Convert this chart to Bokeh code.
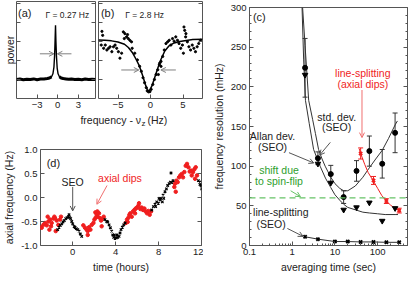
from bokeh.plotting import figure
from bokeh.layouts import row, column
from bokeh.models import (Range1d, FixedTicker, SingleIntervalTicker, LinearAxis, LogTicker,
                          Label, Arrow, OpenHead, Whisker, TeeHead, ColumnDataSource, Span,
                          CustomJSTickFormatter, PrintfTickFormatter)
from bokeh.embed import file_html
from bokeh.resources import INLINE

FONT = "Liberation Sans"
AX = "#555555"
TXT = "#222222"
RED = "#f01e1e"
GREEN_LINE = "#66c266"
GREEN_TXT = "#2e9e2e"
GRAY = "#808080"
TICK_FS = "9.5px"
LAB_FS = "10.5px"

# ---------------- data ----------------
# (a) narrow resonance
a_freq = [-6.0, -5.5, -5.0, -4.5, -4.0, -3.5, -3.0, -2.5, -2.0, -1.5, -1.2, -0.9, -0.7, -0.55, -0.45,
          -0.38, -0.32, -0.26, -0.18, -0.08, 0.05, 0.25, 0.5, 0.8, 1.2, 1.6, 2.0, 2.5, 3.0, 3.5, 4.0,
          4.5, 5.0, 5.5]
a_power = [1.0, 1.02, 0.99, 1.01, 1.0, 1.03, 0.99, 1.02, 1.03, 1.05, 1.08, 1.14, 1.3, 1.65, 2.3,
           3.1, 3.85, 3.0, 2.2, 1.6, 1.3, 1.14, 1.08, 1.05, 1.03, 1.01, 1.02, 1.0, 1.01, 0.99, 1.02,
           1.0, 1.01, 1.0]
a_ticks_x = [-3, 0, 3]

# (b) broad dip
b_fit_freq = [-8.0, -7.0, -6.0, -5.0, -4.0, -3.4, -2.8, -2.2, -1.7, -1.2, -0.8, -0.5, -0.3, -0.1,
              0.2, 0.6, 1.1, 1.6, 2.2, 2.8, 3.5, 4.5, 5.5, 6.5, 8.0]
b_fit_power = [3.08, 3.06, 3.03, 2.97, 2.85, 2.68, 2.42, 2.05, 1.70, 1.20, 0.75, 0.48, 0.40, 0.45,
               0.65, 1.05, 1.58, 2.05, 2.50, 2.75, 2.90, 3.00, 3.05, 3.10, 3.12]
b_dot_freq = [-7.47, -7.36, -7.58, -7.21, -6.96, -6.71, -6.45, -6.21, -5.95, -5.70, -5.45, -5.20,
              -4.94, -4.70, -4.44, -4.18, -3.94, -3.68, -3.42, -3.18, -2.92, -4.03, -3.53, -2.82,
              -2.42, -2.02, -1.67, -1.41, -1.15, -0.91, -0.65, -0.50, -0.30, -0.09, 0.11, 0.36,
              0.61, 0.86, 1.12, 1.36, 1.62, 1.88, 2.12, 2.38, 2.64, 2.88, 3.14, 3.39, 3.64, 3.89,
              4.15, 4.39, 4.65, 4.91, 5.15, 5.26, 5.45, 5.67, 5.91, 6.17, 6.42, 6.67, 6.92, 7.18,
              7.42, 5.06, 5.41, 1.62, 1.21, 1.42, 7.68]
b_dot_power = [3.53, 3.32, 2.81, 2.64, 2.81, 2.55, 2.64, 2.72, 2.46, 2.72, 2.81, 2.64,
               2.46, 2.12, 2.38, 3.50, 3.41, 3.24, 3.15, 3.06, 2.98, 3.15, 3.36, 2.64,
               2.38, 2.03, 1.69, 1.43, 1.09, 0.83, 0.57, 0.40, 0.35, 0.36, 0.48, 0.74,
               1.00, 1.26, 1.51, 1.77, 1.95, 2.21, 2.55, 2.89, 2.98, 3.06, 2.81, 3.15, 3.01, 3.24,
               3.06, 2.89, 2.64, 2.81, 3.76, 3.58, 3.41, 2.98, 2.72, 2.55, 2.81, 2.64, 2.46, 2.72,
               2.89, 2.38, 3.24, 1.69, 1.26, 1.86, 3.06]
b_ticks_x = [-5, 0, 5]
power_ticks = [1, 2, 3, 4, 5]

# (c) frequency resolution vs averaging time
c_tau = [2, 4, 8, 16, 32, 64, 128, 256]
c_std = [224, 110, 90, 61, 94, 119, 103, 142]
c_std_err = [37, 8, 11, 8, 13, 19, 18, 25]
c_allan = [215, 103, 79, 45, 48, 54, 31, 47]
c_std_curve_tau = [1.75, 2.0, 2.43, 3.0, 3.5, 4.14, 5, 5.9, 8, 10, 13, 16, 20, 30, 45, 64, 90,
                   128, 180, 256, 290]
c_std_curve = [300, 252, 183, 159, 141, 121, 109, 100, 86, 78, 72, 69, 69, 75, 86, 98, 109,
               120, 135, 152, 157]
c_allan_curve_tau = [1.70, 1.85, 2.04, 2.5, 3.17, 4.5, 6, 8, 10, 13, 16, 20, 30, 45, 64, 100,
                     150, 256, 300]
c_allan_curve = [300, 235, 183, 154, 121, 100, 85, 73, 64, 57, 52, 48, 45, 42, 41, 40, 39, 39, 39]
c_ls_tau = [2, 4, 10, 20, 40, 80, 160, 320]
c_ls = [11, 8, 5, 5, 4.5, 4.5, 4, 4]
c_dip_tau = [40, 80, 160, 320]
c_dip = [116, 82, 56, 44]
c_dip_err = [7, 5, 3, 3]
c_dip_curve_tau = [37, 40, 50, 60, 80, 100, 125, 160, 200, 250, 320, 350]
c_dip_curve = [122, 116, 102, 92, 81, 72, 63, 56, 51, 47, 44, 43]
spin_flip_shift = 60

# (d) axial frequency vs time
d_seo_t = [-1.40, -1.27, -1.15, -1.02, -0.90, -0.78, -0.65, -0.53, -0.40, -0.34, -0.28, -0.19,
           -0.09, 0.00, 0.12, 0.22, 0.34, 0.47, 0.59, 0.71, 0.84,
           3.01, 3.17, 3.26, 3.39, 3.51, 3.63, 3.73, 3.82, 3.88, 3.94, 4.07, 4.13, 4.19, 4.32,
           4.41, 4.50, 4.63, 4.75, 4.88,
           7.36, 7.52, 7.67, 7.73, 7.83, 7.98, 8.04, 8.14, 8.23, 8.35, 8.42, 8.48, 8.60, 8.73,
           8.85, 8.98, 9.10, 9.16, 9.22, 9.35,
           11.71, 11.83, 11.86, 11.96, 12.02]
d_seo_v = [-0.67, -0.62, -0.58, -0.55, -0.51, -0.48, -0.44, -0.42, -0.40, -0.36, -0.42, -0.44,
           -0.50, -0.55, -0.60, -0.62, -0.65, -0.67, -0.70, -0.76, -0.81,
           -0.46, -0.50, -0.51, -0.57, -0.63, -0.70, -0.78, -0.83, -0.78, -0.85, -0.84, -0.78,
           -0.83, -0.81, -0.74, -0.67, -0.62, -0.57, -0.53,
           -0.26, -0.19, -0.14, -0.19, -0.09, -0.12, -0.02, -0.05, -0.02, -0.09, 0.05, -0.02,
           0.12, 0.18, 0.25, 0.29, 0.32, 0.51, 0.31, 0.35,
           0.35, 0.32, 0.27, 0.25, 0.18]
d_dip_t = [-2.95, -2.89, -2.73, -2.58, -2.42, -2.33, -2.27, -2.17, -2.11, -2.02, -1.96, -1.80,
           -1.71, -1.65, -1.58, -1.49, -1.34, -1.18, -1.09,
           0.99, 1.15, 1.30, 1.40, 1.40, 1.52, 1.65, 1.77, 1.93, 2.02, 2.11, 2.14, 2.24, 2.30,
           2.33, 2.45, 2.55, 2.64, 2.70, 2.80, 2.89,
           4.94, 5.06, 5.12, 5.19, 5.28, 5.37, 5.50, 5.62, 5.75, 5.81, 5.87, 5.99, 6.12, 6.18,
           6.30, 6.43, 6.55, 6.68, 6.80, 6.93, 7.05, 7.17, 7.30,
           9.47, 9.53, 9.60, 9.66, 9.78, 9.91, 10.03, 10.16, 10.28, 10.40, 10.53, 10.65, 10.78,
           10.90, 11.02, 11.09, 11.21, 11.34, 11.40, 11.46, 11.58]
d_dip_v = [-0.62, -0.63, -0.57, -0.53, -0.58, -0.40, -0.50, -0.67, -0.46, -0.60, -0.53, -0.44,
           -0.40, -0.43, -0.70, -0.48, -0.57, -0.46, -0.40,
           -0.58, -0.63, -0.67, -0.70, -0.78, -0.62, -0.67, -0.57, -0.53, -0.46, -0.31, -0.42,
           -0.36, -0.29, -0.40, -0.33, -0.43, -0.48, -0.60, -0.44, -0.40,
           -0.53, -0.46, -0.51, -0.42, -0.36, -0.33, -0.40, -0.29, -0.26, -0.33, -0.23, -0.21,
           -0.17, -0.12, -0.24, -0.21, -0.26, -0.23, -0.29, -0.33, -0.28, -0.36, -0.29,
           0.22, 0.29, 0.12, 0.35, 0.32, 0.42, 0.46, 0.49, 0.42, 0.53, 0.66, 0.70, 0.63,
           0.54, 0.56, 0.46, 0.53, 0.59, 0.39, 0.63, 0.46]
d_ticks_x = [0, 4, 8, 12]
d_ticks_y = [-1.0, -0.5, 0.0, 0.5, 1.0]


# ---------------- helpers ----------------
def style_axis(ax):
    ax.axis_line_color = None
    ax.major_tick_in = 4
    ax.major_tick_out = 0
    ax.minor_tick_in = 2
    ax.minor_tick_out = 0
    ax.major_tick_line_color = AX
    ax.minor_tick_line_color = AX
    ax.major_label_text_font = FONT
    ax.major_label_text_font_size = TICK_FS
    ax.major_label_text_color = TXT
    ax.major_label_standoff = 3
    ax.axis_label_text_font = FONT
    ax.axis_label_text_font_size = LAB_FS
    ax.axis_label_text_font_style = "normal"
    ax.axis_label_text_color = TXT
    ax.axis_label_standoff = 3


def hide_labels(ax):
    ax.formatter = CustomJSTickFormatter(code="return ''")
    ax.major_label_text_font_size = "0px"
    ax.major_label_standoff = 0


def base_fig(**kw):
    p = figure(output_backend="svg", toolbar_location=None, **kw)
    p.grid.visible = False
    p.outline_line_color = AX
    p.outline_line_width = 1
    p.background_fill_color = "white"
    p.border_fill_color = "white"
    for ax in p.axis:
        style_axis(ax)
    return p


def mirror_right(p, ticker):
    ax = LinearAxis(ticker=ticker)
    style_axis(ax)
    hide_labels(ax)
    p.add_layout(ax, "right")


def lab(p, x, y, text, size=LAB_FS, color=TXT, align="center"):
    p.add_layout(Label(x=x, y=y, text=text, text_font=FONT, text_font_size=size,
                       text_color=color, text_align=align, text_baseline="middle"))


def arrow(p, x0, y0, x1, y1, color=GRAY):
    p.add_layout(Arrow(end=OpenHead(size=5, line_color=color, line_width=1),
                       x_start=x0, y_start=y0, x_end=x1, y_end=y1,
                       line_color=color, line_width=1))


# ---------------- panel (a) ----------------
pa = base_fig(frame_width=79, frame_height=97, x_range=Range1d(-6, 5.5), y_range=Range1d(0, 5.1),
              min_border_left=14, min_border_right=1, min_border_top=1, min_border_bottom=15)
pa.xaxis.ticker = FixedTicker(ticks=a_ticks_x)
pa.yaxis.ticker = FixedTicker(ticks=power_ticks)
hide_labels(pa.yaxis[0])
pa.yaxis.axis_label = "power"
pa.yaxis.axis_label_standoff = 1
mirror_right(pa, FixedTicker(ticks=power_ticks))
left = [(f, w) for f, w in zip(a_freq, a_power) if f < -0.8]
right_ = [(f, w) for f, w in zip(a_freq, a_power) if f > 0.2]
pa.line([f for f, _ in left], [w for _, w in left], line_color="black", line_width=3)
pa.line([f for f, _ in right_], [w for _, w in right_], line_color="black", line_width=3)
pa.line(a_freq, a_power, line_color="black", line_width=1.4)
arrow(pa, -2.6, 2.35, -0.55, 2.35)
arrow(pa, 2.0, 2.35, -0.05, 2.35)
lab(pa, -4.8, 4.5, "(a)", size="11px")
lab(pa, 1.4, 4.4, "Γ = 0.27 Hz", size="8.5px")

# ---------------- panel (b) ----------------
pb = base_fig(frame_width=104, frame_height=97, x_range=Range1d(-8, 8), y_range=Range1d(0, 5.1),
              min_border_left=2, min_border_right=2, min_border_top=1, min_border_bottom=15)
pb.xaxis.ticker = FixedTicker(ticks=b_ticks_x)
pb.yaxis.ticker = FixedTicker(ticks=power_ticks)
hide_labels(pb.yaxis[0])
mirror_right(pb, FixedTicker(ticks=power_ticks))
pb.scatter(b_dot_freq, b_dot_power, marker="circle", size=2.2, color="black")
pb.line(b_fit_freq, b_fit_power, line_color="black", line_width=1.5)
arrow(pb, -4.5, 1.5, -1.8, 1.5)
arrow(pb, 3.9, 1.5, 1.6, 1.5)
lab(pb, -6.6, 4.5, "(b)", size="11px")
lab(pb, -0.9, 4.4, "Γ = 2.8 Hz", size="8.5px")

# ---------------- shared x label for (a)/(b) ----------------
ps = figure(width=202, height=14, x_range=Range1d(0, 202), y_range=Range1d(0, 14),
            output_backend="svg", toolbar_location=None, min_border=0)
ps.axis.visible = False
ps.grid.visible = False
ps.outline_line_color = None
lab(ps, 127, 8, "frequency - ν", align="right")
lab(ps, 127.5, 4.5, "z", size="8px", align="left")
lab(ps, 135, 8, "(Hz)", align="left")

# ---------------- panel (d) ----------------
pd = base_fig(frame_width=161, frame_height=96, x_range=Range1d(-3, 12), y_range=Range1d(-1, 1),
              min_border_left=36, min_border_right=2, min_border_top=22, min_border_bottom=30)
pd.xaxis.ticker = FixedTicker(ticks=d_ticks_x)
pd.yaxis.ticker = FixedTicker(ticks=d_ticks_y)
pd.yaxis.formatter = PrintfTickFormatter(format="%.1f")
pd.xaxis.axis_label = "time (hours)"
pd.yaxis.axis_label = "axial frequency (Hz)"
mirror_right(pd, FixedTicker(ticks=d_ticks_y))
pd.scatter(d_dip_t, d_dip_v, marker="circle", size=3.5, color=RED)
pd.scatter(d_seo_t, d_seo_v, marker="x", size=3.5, line_color="black", line_width=1.2)
lab(pd, -1.8, 0.72, "(d)", size="11px")
lab(pd, 0.0, 0.33, "SEO")
arrow(pd, 0.0, 0.22, 0.0, -0.28, color="#555555")
lab(pd, 4.4, 0.40, "axial dips", color=RED)
arrow(pd, 3.2, 0.25, 2.25, -0.14, color="#f07070")

# ---------------- panel (c) ----------------
pc = base_fig(frame_width=158, frame_height=238, x_axis_type="log", x_range=Range1d(0.1, 500),
              y_range=Range1d(0, 300),
              min_border_left=45, min_border_right=2, min_border_top=7, min_border_bottom=30)
for ax in pc.axis:
    style_axis(ax)
pc.xaxis.ticker = LogTicker(num_minor_ticks=10)
pc.xaxis.formatter = CustomJSTickFormatter(code="return String(Number(tick.toPrecision(6)))")
pc.yaxis.ticker = SingleIntervalTicker(interval=50, num_minor_ticks=5)
pc.xaxis.axis_label = "averaging time (sec)"
pc.yaxis.axis_label = "frequency resolution (mHz)"
mirror_right(pc, SingleIntervalTicker(interval=50, num_minor_ticks=5))

pc.add_layout(Span(location=spin_flip_shift, dimension="width", line_color=GREEN_LINE,
                   line_dash="6 4", line_width=1.2))
pc.line(c_std_curve_tau, c_std_curve, line_color="#333333", line_width=1)
pc.line(c_allan_curve_tau, c_allan_curve, line_color="#333333", line_width=1)
pc.line(c_ls_tau, c_ls, line_color="#333333", line_width=1)
pc.line(c_dip_curve_tau, c_dip_curve, line_color=RED, line_width=1)

std_src = ColumnDataSource(dict(x=c_tau,
                                upper=[v + e for v, e in zip(c_std, c_std_err)],
                                lower=[v - e for v, e in zip(c_std, c_std_err)]))
pc.add_layout(Whisker(base="x", upper="upper", lower="lower", source=std_src,
                      line_color="#333333", line_width=1,
                      upper_head=TeeHead(size=5, line_color="#333333"),
                      lower_head=TeeHead(size=5, line_color="#333333")))
dip_src = ColumnDataSource(dict(x=c_dip_tau,
                                upper=[v + e for v, e in zip(c_dip, c_dip_err)],
                                lower=[v - e for v, e in zip(c_dip, c_dip_err)]))
pc.add_layout(Whisker(base="x", upper="upper", lower="lower", source=dip_src,
                      line_color=RED, line_width=1,
                      upper_head=TeeHead(size=5, line_color=RED),
                      lower_head=TeeHead(size=5, line_color=RED)))

pc.scatter(c_tau, c_std, marker="circle", size=5, color="black")
pc.scatter(c_tau, c_allan, marker="inverted_triangle", size=5.5, color="black")
pc.scatter(c_ls_tau, c_ls, marker="x", size=4.5, line_color="black", line_width=1.8)
pc.scatter(c_dip_tau, c_dip, marker="x", size=4.5, line_color=RED, line_width=1.8)

lab(pc, 0.17, 288, "(c)", size="11px")
lab(pc, 45, 218, "line-splitting", color=RED)
lab(pc, 45, 203, "(axial dips)", color=RED)
arrow(pc, 43, 196, 43, 136, color="#f07070")
lab(pc, 11, 162, "std. dev.")
lab(pc, 11, 150, "(SEO)")
arrow(pc, 7.8, 130, 4.4, 114, color="#555555")
lab(pc, 0.345, 138, "Allan dev.")
lab(pc, 0.345, 124, "(SEO)")
arrow(pc, 0.84, 117, 3.2, 104, color="#555555")
lab(pc, 0.49, 95, "shift due", color=GREEN_TXT)
lab(pc, 0.49, 81, "to spin-flip", color=GREEN_TXT)
arrow(pc, 0.92, 69, 1.56, 61.5, color=GREEN_LINE)
lab(pc, 0.54, 42, "line-splitting")
lab(pc, 0.32, 27, "(SEO)")
arrow(pc, 0.77, 21.5, 1.8, 11.5, color="#555555")

layout = row(column(row(pa, pb), ps, pd), pc)
open("out.html", "w").write(file_html(layout, INLINE))
